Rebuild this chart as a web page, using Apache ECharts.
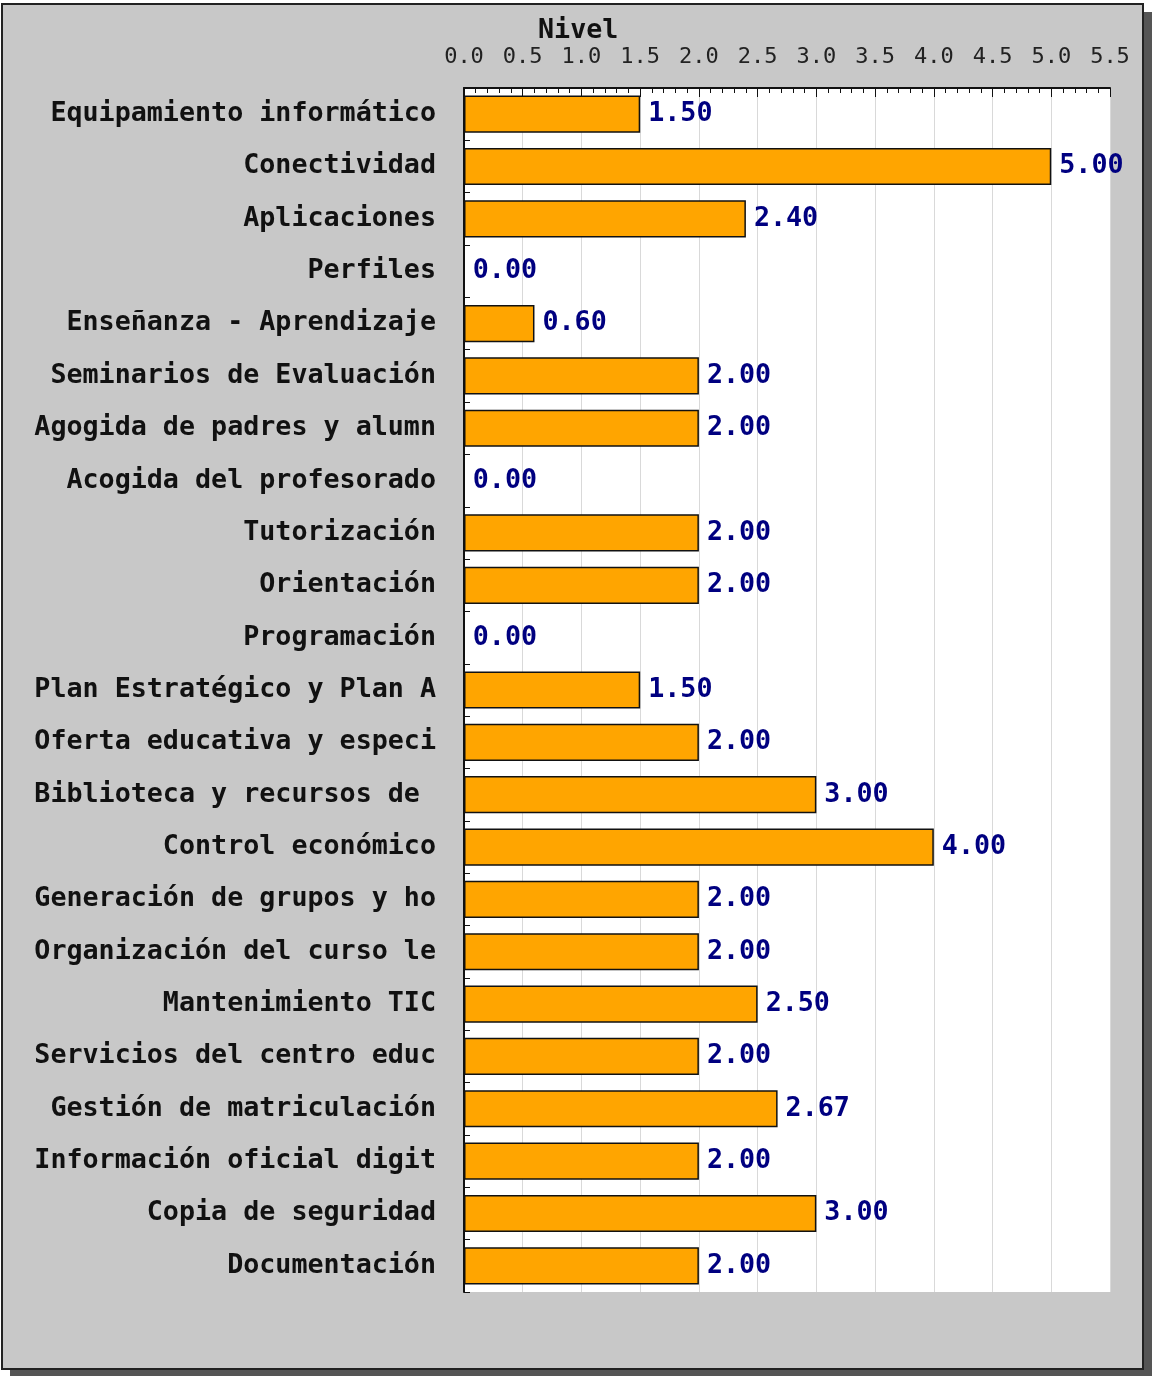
<!DOCTYPE html>
<html>
<head>
<meta charset="utf-8">
<script src="https://cdn.jsdelivr.net/npm/echarts@6/dist/echarts.min.js"></script>
<style>
  html, body { margin: 0; padding: 0; background: #fff; }
  #main { width: 1152px; height: 1376px; }
</style>
</head>
<body>
<div id="main"></div>
<script>
var categories = [
    'Equipamiento informático',
    'Conectividad',
    'Aplicaciones',
    'Perfiles',
    'Enseñanza - Aprendizaje',
    'Seminarios de Evaluación',
    'Agogida de padres y alumn',
    'Acogida del profesorado',
    'Tutorización',
    'Orientación',
    'Programación',
    'Plan Estratégico y Plan A',
    'Oferta educativa y especi',
    'Biblioteca y recursos de ',
    'Control económico',
    'Generación de grupos y ho',
    'Organización del curso le',
    'Mantenimiento TIC',
    'Servicios del centro educ',
    'Gestión de matriculación',
    'Información oficial digit',
    'Copia de seguridad',
    'Documentación'
];
var nivel = [1.5, 5.0, 2.4, 0, 0.6, 2.0, 2.0, 0, 2.0, 2.0, 0, 1.5, 2.0, 3.0, 4.0, 2.0, 2.0, 2.5, 2.0, 2.67, 2.0, 3.0, 2.0];
var axisMin = 0;
var axisMax = 5.5;
var axisStep = 0.5;

var FONT = '"DejaVu Sans Mono", "Liberation Mono", monospace';

var chartDom = document.getElementById('main');
var myChart = echarts.init(chartDom);
var option;

option = {
    backgroundColor: '#ffffff',
    animation: false,
    graphic: [
        {
            type: 'rect', z: -20, silent: true,
            shape: { x: 10, y: 12, width: 1142, height: 1364 },
            style: { fill: '#555555' }
        },
        {
            type: 'rect', z: -10, silent: true,
            shape: { x: 2, y: 4, width: 1141, height: 1365 },
            style: { fill: '#c8c8c8', stroke: '#222222', lineWidth: 2 }
        }
    ],
    title: {
        text: 'Nivel',
        left: 533,
        top: 13,
        textStyle: { fontFamily: FONT, fontSize: 26.7, fontWeight: 'bold', color: '#111' }
    },
    grid: {
        left: 464,
        top: 88,
        width: 646,
        height: 1204,
        show: true,
        backgroundColor: '#ffffff',
        borderWidth: 0
    },
    xAxis: {
        type: 'value',
        position: 'top',
        min: axisMin,
        max: axisMax,
        interval: axisStep,
        axisLine: { show: true, lineStyle: { color: '#111', width: 2 } },
        axisTick: { show: true, inside: true, length: 9, lineStyle: { color: '#111' } },
        minorTick: { show: true, splitNumber: 5, length: 5, lineStyle: { color: '#111' } },
        splitLine: { show: true, lineStyle: { color: '#d9d9d9', width: 1 } },
        axisLabel: {
            margin: 20,
            fontFamily: FONT,
            fontSize: 22,
            color: '#222',
            formatter: function (v) { return v.toFixed(1); }
        }
    },
    yAxis: {
        type: 'category',
        inverse: true,
        data: categories,
        axisLine: { show: true, lineStyle: { color: '#111', width: 2 } },
        axisTick: { show: true, inside: true, length: 6, lineStyle: { color: '#111' } },
        axisLabel: {
            margin: 28,
            fontFamily: FONT,
            fontSize: 26.7,
            fontWeight: 'bold',
            color: '#111'
        }
    },
    series: [
        {
            name: 'Nivel',
            type: 'bar',
            data: nivel,
            barCategoryGap: '29%',
            itemStyle: { color: '#ffa500', borderColor: '#111', borderWidth: 1.5 },
            label: {
                show: true,
                position: 'right',
                distance: 8,
                fontFamily: FONT,
                fontSize: 26.7,
                fontWeight: 'bold',
                color: '#000080',
                formatter: function (p) { return p.value.toFixed(2); }
            }
        }
    ]
};

option && myChart.setOption(option);
</script>
</body>
</html>
